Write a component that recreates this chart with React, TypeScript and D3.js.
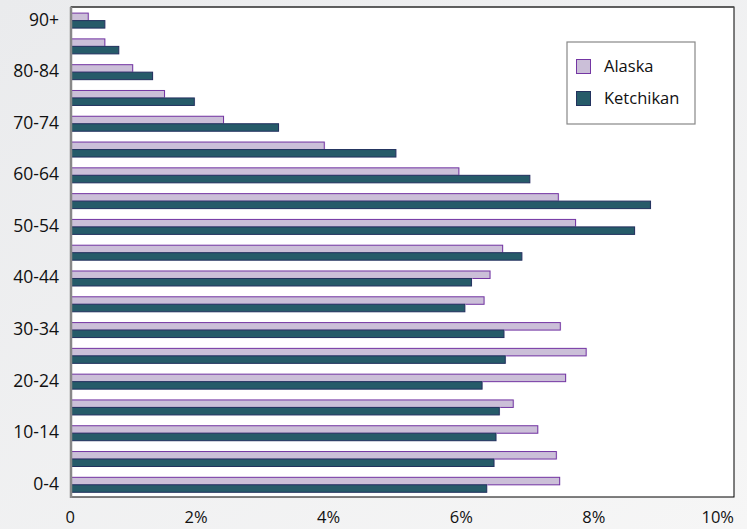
import React from "react";
import * as d3 from "d3";

const categories = ["90+","85-89","80-84","75-79","70-74","65-69","60-64","55-59","50-54","45-49","40-44","35-39","30-34","25-29","20-24","15-19","10-14","5-9","0-4"];
const shownLabels = ["90+","80-84","70-74","60-64","50-54","40-44","30-34","20-24","10-14","0-4"];
const alaska = [0.26,0.51,0.93,1.41,2.30,3.82,5.85,7.35,7.61,6.51,6.32,6.23,7.38,7.77,7.46,6.67,7.04,7.32,7.37];
const ketchikan = [0.51,0.72,1.23,1.86,3.13,4.90,6.92,8.74,8.50,6.80,6.04,5.94,6.53,6.55,6.20,6.46,6.41,6.38,6.27];
const series = ["Alaska","Ketchikan"];
const xTicks = [0,2,4,6,8,10];
const xTickLabels = ["0","2%","4%","6%","8%","10%"];

const W = 747, H = 529;
const plot = { left: 71, right: 734, top: 7, bottom: 497 };
const font = "'Open Sans', sans-serif";
const fills = ["#cbbfd8", "#265b69"];
const strokes = ["#7436a3", "#22325e"];

export default function App() {
  const x = d3.scaleLinear().domain([0, 10]).range([plot.left, plot.right]);
  const y = d3.scaleBand<string>().domain(categories).range([plot.top, plot.bottom]).padding(0);
  const step = y.bandwidth();
  const groupH = step * 0.58;
  const sub = d3.scaleBand<string>().domain(series).range([0, groupH]).padding(0);
  const off = (step - groupH) / 2 + 0.7;
  const data = [alaska, ketchikan];

  return (
    <svg width={W} height={H} style={{ position: "absolute", left: 0, top: 0 }} fontFamily={font}>
      <defs>
        <linearGradient id="bg" x1="0" y1="0" x2="1" y2="1">
          <stop offset="0" stopColor="#eaebed" />
          <stop offset="1" stopColor="#f6f6f6" />
        </linearGradient>
      </defs>
      <rect x={0} y={0} width={W} height={H} fill="url(#bg)" />
      <rect x={plot.left} y={plot.top} width={plot.right - plot.left} height={plot.bottom - plot.top} fill="#ffffff" stroke="#000" strokeWidth={1} />
      <line x1={plot.left} x2={plot.right} y1={plot.top} y2={plot.top} stroke="#555" strokeWidth={1.5} />
      {categories.map((c, i) =>
        series.map((s, j) => {
          const v = data[j][i];
          const by = (y(c) as number) + off + (sub(s) as number);
          return (
            <g key={c + s}>
              <rect x={x(0)} y={by - 0.5} width={x(v) - x(0) + 1} height={sub.bandwidth() + 1} fill="#e4dcef" opacity={0.7} />
              <rect x={x(0)} y={by} width={x(v) - x(0)} height={sub.bandwidth()} fill={fills[j]} stroke={strokes[j]} strokeWidth={1} />
            </g>
          );
        })
      )}
      <line x1={plot.left} x2={plot.left} y1={plot.top} y2={plot.bottom + 1} stroke="#888" strokeWidth={2.5} />
      {shownLabels.map((c) => (
        <text key={c} x={59} y={(y(c) as number) + step / 2 + 1} textAnchor="end" dominantBaseline="middle" fontSize={17.5} fill="#111">
          {c}
        </text>
      ))}
      {xTicks.map((t, i) => (
        <text key={t} x={Math.min(x(t) + 4, plot.right)} y={523} textAnchor="end" fontSize={16.5} fill="#111">
          {xTickLabels[i]}
        </text>
      ))}
      <g>
        <rect x={567} y={42} width={128} height={82} fill="#fff" stroke="#888" strokeWidth={1.2} />
        {series.map((s, j) => (
          <g key={s}>
            <rect x={576.5} y={59.5 + j * 32} width={14} height={14} fill={fills[j]} stroke={strokes[j]} strokeWidth={1} />
            <text x={604} y={71.5 + j * 32} fontSize={16.5} fill="#111">{s}</text>
          </g>
        ))}
      </g>
    </svg>
  );
}
